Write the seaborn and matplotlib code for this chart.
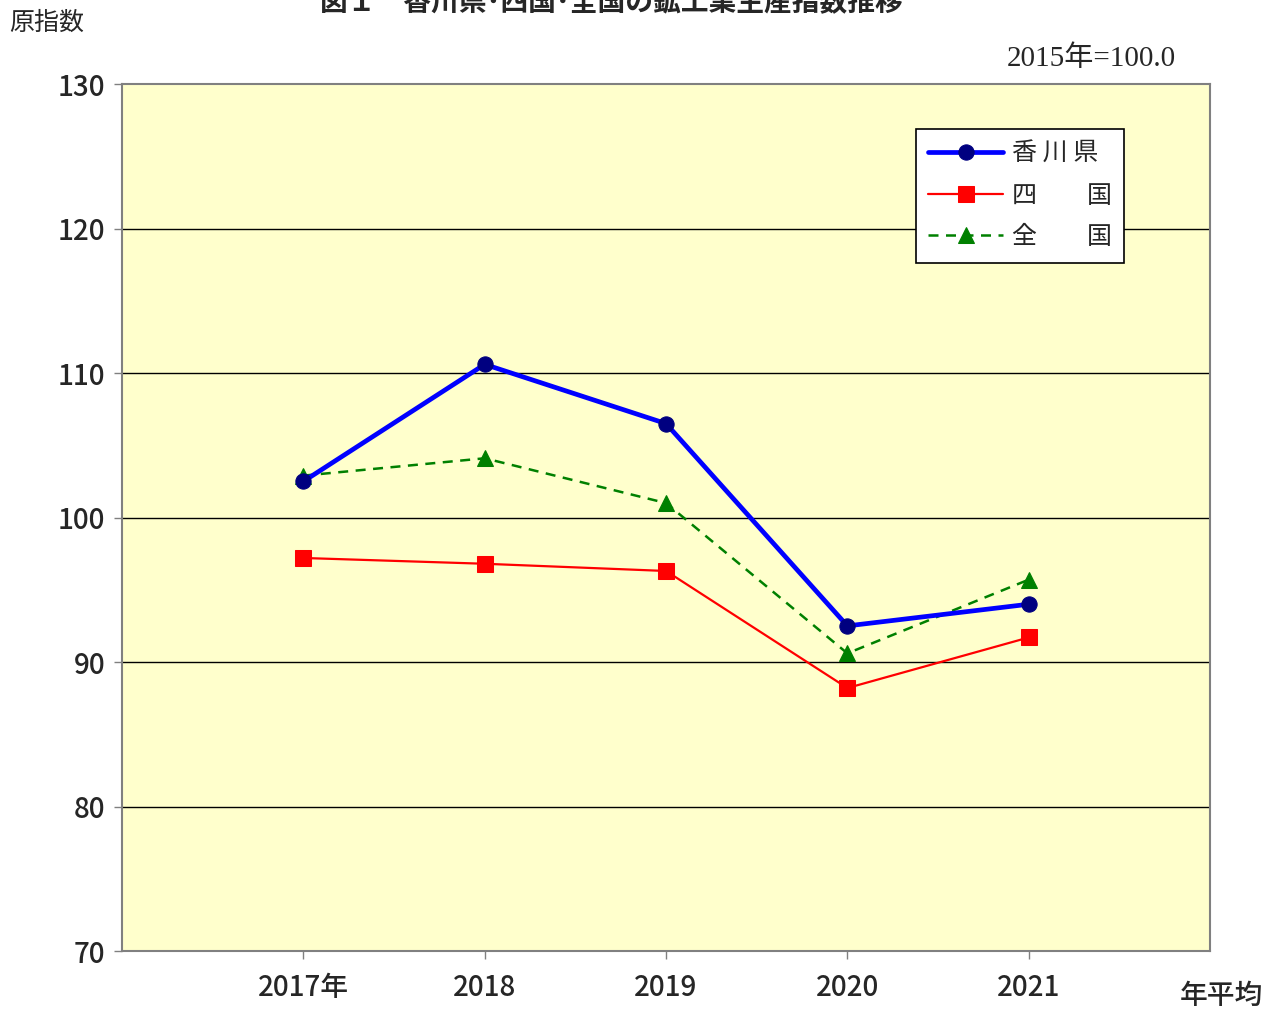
import numpy as np
import pandas as pd
import matplotlib
matplotlib.use("Agg")
import matplotlib.pyplot as plt
import seaborn as sns

# -------------------------------------------
# data
# -------------------------------------------
years = ["2017", "2018", "2019", "2020", "2021"]
tick_labels = ["2017年", "2018", "2019", "2020", "2021"]
kagawa = [102.5, 110.6, 106.5, 92.5, 94.0]
shikoku = [97.2, 96.8, 96.3, 88.2, 91.7]
zenkoku = [102.9, 104.1, 101.0, 90.6, 95.7]
series_names = ["香 川 県", "四　　国", "全　　国"]

sns.set_theme(style="white")
plt.rcParams["font.family"] = ["Noto Sans CJK JP", "DejaVu Sans"]

fig = plt.figure(figsize=(12.74, 10.10), dpi=100)
ax = fig.add_axes([0.0958, 0.0584, 0.8540, 0.8584])
ax.set_facecolor("#FFFFCC")

x = np.arange(len(years))

# draw lighter lines first, Kagawa on top
sns.lineplot(x=x, y=shikoku, ax=ax, color="red", lw=1.6, marker="s",
             markersize=11, markeredgecolor="red", label=series_names[1])
sns.lineplot(x=x, y=zenkoku, ax=ax, color="green", lw=1.8, marker="^",
             markersize=12, markeredgecolor="green", label=series_names[2])
ax.lines[-1].set_dashes([4, 3])
sns.lineplot(x=x, y=kagawa, ax=ax, color="blue", lw=3.4, marker="o",
             markersize=11, markerfacecolor="#000080", markeredgecolor="#000080",
             label=series_names[0])

ax.set_xlim(-1, len(years))
ax.set_ylim(70, 130)
ax.set_yticks(range(70, 131, 10))
ax.set_xticks(x)
ax.set_xticklabels(tick_labels)
ax.grid(False)
for yv in range(80, 130, 10):
    ax.axhline(yv, color="black", lw=1.0, zorder=0.5)

for s in ax.spines.values():
    s.set_color("#808080")
    s.set_linewidth(1.5)

ax.tick_params(axis="x", direction="out", length=6, width=1, color="#808080",
               labelsize=20, pad=10, bottom=True)
ax.tick_params(axis="y", direction="out", length=6, width=1, color="#808080",
               labelsize=20, pad=6, left=True)
for lab in ax.get_xticklabels() + ax.get_yticklabels():
    lab.set_fontweight("medium")
ax.set_xlabel("")
ax.set_ylabel("")

# legend in Kagawa / Shikoku / Zenkoku order
h, l = ax.get_legend_handles_labels()
order = [2, 0, 1]
leg = ax.legend([h[i] for i in order], [l[i] for i in order],
                loc="upper left", bbox_to_anchor=(0.718, 0.963),
                fontsize=18, handlelength=3.0, frameon=True, fancybox=False,
                edgecolor="black", framealpha=1, borderpad=0.5,
                labelspacing=0.62, handletextpad=0.35)
leg.get_frame().set_linewidth(1.2)

# texts
fig.text(0.48, 0.998, "図１　香川県･四国･全国の鉱工業生産指数推移", ha="center",
         va="center", fontsize=20, fontweight="bold")
fig.text(0.007, 0.977, "原指数", ha="left", va="center", fontsize=18)
fig.text(0.923, 0.942, "2015年=100.0", ha="right", va="center", fontsize=21,
         family=["Liberation Serif", "Noto Sans CJK JP"])
fig.text(0.991, 0.014, "年平均", ha="right", va="center", fontsize=20,
         fontweight="medium")

plt.savefig("out.png", dpi=100)
